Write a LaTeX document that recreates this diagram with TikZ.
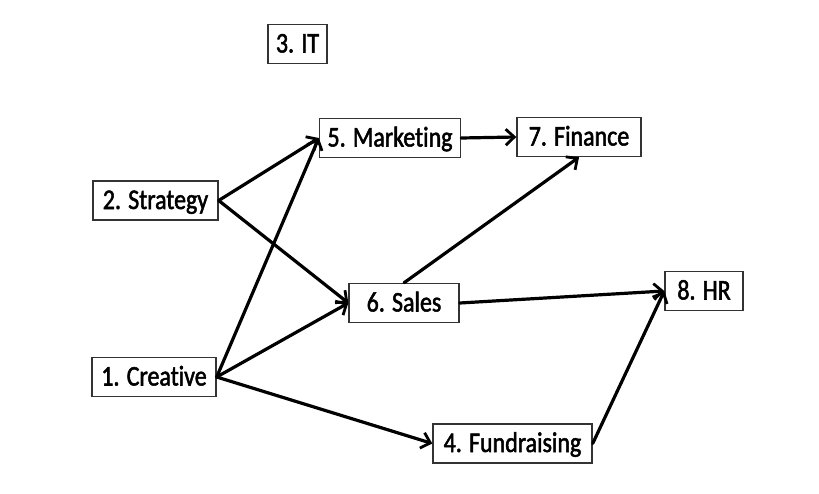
\documentclass[tikz,border=0pt]{standalone}
\usepackage{fontspec}
\setmainfont{Carlito}[FakeStretch=0.84,FakeBold=1.8,Ligatures=NoCommon]
\usetikzlibrary{arrows.meta}
\begin{document}
\begin{tikzpicture}[x=1pt,y=-1pt,
 box/.style={draw=black!80, line width=1.4pt, minimum height=39pt, inner sep=0pt, text height=17pt, text depth=0pt, font=\fontsize{28.5}{30}\selectfont, fill=white},
 arr/.style={line width=3.2pt, line cap=round, -{Straight Barb[length=8.5pt,width=16pt,line width=2.8pt]}}]
\fill[white] (0,0) rectangle (819,493);
\useasboundingbox (0,0) rectangle (819,493);
\node[box, minimum width=59pt]  (it)   at (297.5,44)  {3. IT};
\node[box, minimum width=141pt] (mkt)  at (390,138)   {5. Marketing};
\node[box, minimum width=124pt] (fin)  at (579,137)   {7. Finance};
\node[box, minimum width=125pt] (str)  at (155.5,200.5) {2. Strategy};
\node[box, minimum width=110pt] (sal)  at (404,303)   {6. Sales};
\node[box, minimum width=124pt] (cre)  at (154,377)   {1. Creative};
\node[box, minimum width=78pt]  (hr)   at (704,291)   {8. HR};
\node[box, minimum width=159pt] (fund) at (512.5,443.5) {4. Fundraising};
\draw[arr] (str.east) -- (mkt.west);
\draw[arr] (str.east) -- (sal.west);
\draw[arr] (cre.east) -- (mkt.west);
\draw[arr] (cre.east) -- (sal.west);
\draw[arr] (cre.east) -- (fund.west);
\draw[arr] (mkt.east) -- (fin.west);
\draw[arr] (sal.north) -- (fin.south);
\draw[arr] (sal.east) -- (hr.west);
\draw[arr] (fund.east) -- (hr.west);
\end{tikzpicture}
\end{document}
